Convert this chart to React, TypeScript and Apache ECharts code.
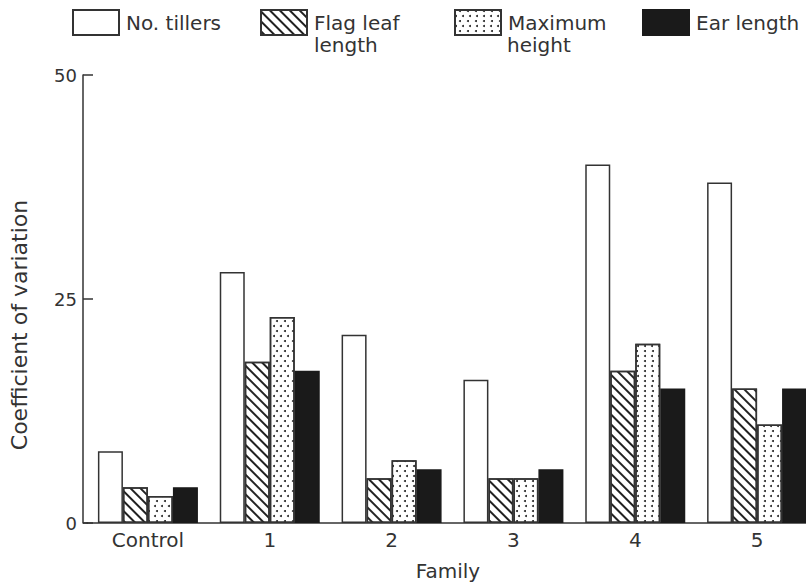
import React, { useEffect, useRef } from "react";
import * as echarts from "echarts";

const categories = ["Control", "1", "2", "3", "4", "5"];
const tillers = [8, 28, 21, 16, 40, 38];
const flagLeaf = [4, 18, 5, 5, 17, 15];
const maxHeight = [3, 23, 7, 5, 20, 11];
const earLength = [4, 17, 6, 6, 15, 15];
const yTicks = [0, 25, 50];

const FONT = "'DejaVu Sans', Verdana, sans-serif";
const INK = "#333";

const hatch = {
  symbol: "rect",
  symbolSize: 1,
  color: "#222",
  dashArrayX: [1, 0],
  dashArrayY: [1.3, 4.5],
  rotation: Math.PI / 4,
};
const dots = {
  symbol: "circle",
  symbolSize: 1,
  color: "#222",
  dashArrayX: [
    [1.7, 5],
    [0, 3.3, 1.7, 1.7],
  ],
  dashArrayY: [1.7, 2.6],
  rotation: 0,
};

export default function App() {
  const ref = useRef<HTMLDivElement>(null);
  useEffect(() => {
    if (!ref.current) return;
    document.body.style.overflow = "hidden";
    const chart = echarts.init(ref.current, undefined, { renderer: "svg" });
    const legendBase = {
      top: 9,
      padding: 0,
      itemWidth: 46,
      itemHeight: 25,
      icon: "rect",
      selectedMode: false,
      textStyle: { fontFamily: FONT, fontSize: 20, color: INK, padding: [0, 0, 0, 2] },
    };
    const barBase = {
      type: "bar",
      barWidth: 25,
      barGap: "0%",
      itemStyle: { color: "#fff", borderColor: INK, borderWidth: 1.5 },
    };
    chart.setOption({
      animation: false,
      backgroundColor: "#fff",
      legend: [
        { ...legendBase, left: 72, data: ["No. tillers"] },
        { ...legendBase, left: 260, data: ["Flag leaf length"], formatter: () => "Flag leaf" },
        { ...legendBase, left: 454, data: ["Maximum height"], formatter: () => "Maximum" },
        { ...legendBase, left: 642, data: ["Ear length"] },
      ],
      grid: { left: 87, top: 75, width: 731, height: 448 },
      xAxis: {
        type: "category",
        data: categories,
        axisTick: { show: false },
        axisLine: { lineStyle: { color: INK, width: 1.5 } },
        axisLabel: { fontFamily: FONT, fontSize: 20, color: INK, margin: 7 },
      },
      yAxis: {
        type: "value",
        min: yTicks[0],
        max: yTicks[yTicks.length - 1],
        interval: 25,
        offset: 4,
        splitLine: { show: false },
        axisLine: { show: true, lineStyle: { color: INK, width: 1.5 } },
        axisTick: { show: true, inside: true, length: 10, lineStyle: { color: INK, width: 1.5 } },
        axisLabel: { fontFamily: FONT, fontSize: 18, color: INK, margin: 6 },
      },
      graphic: [
        {
          type: "line",
          shape: { x1: 83, y1: 523, x2: 88, y2: 523 },
          style: { stroke: INK, lineWidth: 1.5 },
        },
        {
          type: "text",
          left: 314,
          top: 35,
          style: { text: "length", font: `20px ${FONT}`, fill: INK },
        },
        {
          type: "text",
          left: 507,
          top: 35,
          style: { text: "height", font: `20px ${FONT}`, fill: INK },
        },
        {
          type: "text",
          x: 448,
          y: 571,
          style: { text: "Family", font: `20px ${FONT}`, fill: INK, align: "center", verticalAlign: "middle" },
        },
        {
          type: "text",
          x: 19,
          y: 325,
          rotation: Math.PI / 2,
          style: {
            text: "Coefficient of variation",
            font: `22px ${FONT}`,
            fill: INK,
            align: "center",
            verticalAlign: "middle",
          },
        },
      ],
      series: [
        { ...barBase, name: "No. tillers", data: tillers },
        { ...barBase, name: "Flag leaf length", data: flagLeaf, itemStyle: { ...barBase.itemStyle, decal: hatch } },
        { ...barBase, name: "Maximum height", data: maxHeight, itemStyle: { ...barBase.itemStyle, decal: dots } },
        { ...barBase, name: "Ear length", data: earLength, itemStyle: { color: "#1a1a1a", borderColor: "#1a1a1a", borderWidth: 1.5 } },
      ],
    });
    return () => chart.dispose();
  }, []);
  return (
    <div
      ref={ref}
      style={{ position: "fixed", left: 0, top: 0, width: 830, height: 582, background: "#fff" }}
    />
  );
}
